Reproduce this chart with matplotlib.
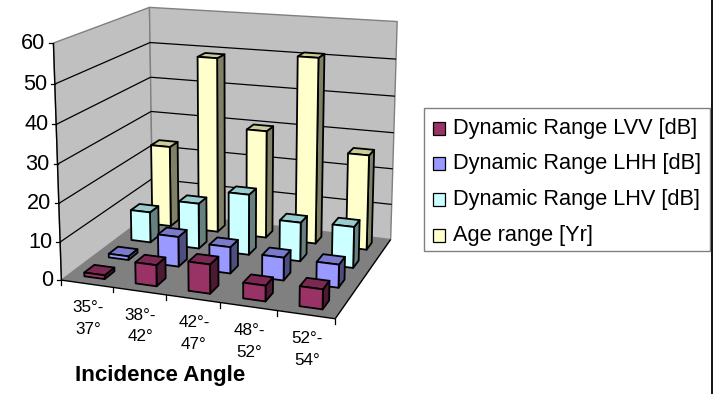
import numpy as np
import matplotlib
matplotlib.use("Agg")
import matplotlib.pyplot as plt
from matplotlib.patches import Polygon, Rectangle

plt.rcParams['font.family'] = ['Liberation Sans', 'DejaVu Sans']

categories = ["35°-\n37°", "38°-\n42°", "42°-\n47°", "48°-\n52°", "52°-\n54°"]
y_ticks = [0, 10, 20, 30, 40, 50, 60]
lvv = [1, 5.5, 7.5, 4, 5]
lhh = [1, 8, 7, 6, 6]
lhv = [8.5, 12.5, 16.5, 10.5, 11]
age = [23, 49, 30, 51, 26]
series_names = ["Dynamic Range LVV [dB]", "Dynamic Range LHH [dB]",
                "Dynamic Range LHV [dB]", "Age range [Yr]"]
x_title = "Incidence Angle"

faces = ["#993366", "#9999FF", "#CCFFFF", "#FFFFCC"]
tops = ["#7A2952", "#7A7ACC", "#99CCCC", "#CCCC99"]
sides = ["#4D1A33", "#4D4D80", "#668080", "#808066"]

# perspective calibration of the 3-D axes box: (col, row, value) -> pixel
calib = [((0, 0, 0), (62, 279)), ((5, 0, 0), (335, 320)), ((5, 4, 0), (391, 238)),
         ((0, 4, 0), (152, 213)), ((0, 0, 60), (53, 43)), ((0, 4, 60), (150, 7)),
         ((5, 4, 60), (397, 22))]
A, b = [], []
for (X, Y, Z), (u, v) in calib:
    A.append([X, Y, Z, 1, 0, 0, 0, 0, -u*X, -u*Y, -u*Z]); b.append(u)
    A.append([0, 0, 0, 0, X, Y, Z, 1, -v*X, -v*Y, -v*Z]); b.append(v)
p = np.linalg.lstsq(np.array(A, float), np.array(b, float), rcond=None)[0]
P = np.append(p, 1).reshape(3, 4)


def proj(X, Y, Z):
    h = P @ np.array([X, Y, Z, 1.0])
    return h[0]/h[2], h[1]/h[2]


fig = plt.figure(figsize=(7.16, 3.94), dpi=100)
ax = fig.add_axes([0, 0, 1, 1])
ax.set_xlim(0, 716)
ax.set_ylim(394, 0)
ax.axis("off")


def quad(pts, fc, ec="none", lw=1.0, z=1):
    ax.add_patch(Polygon([proj(*q) for q in pts], closed=True, fc=fc, ec=ec, lw=lw,
                         zorder=z, joinstyle="round"))


def line(a, b, c="k", lw=1.0, z=2):
    pa, pb = proj(*a), proj(*b)
    ax.plot([pa[0], pb[0]], [pa[1], pb[1]], color=c, lw=lw, zorder=z, solid_capstyle="butt")


# walls and floor
quad([(0, 0, 0), (0, 4, 0), (0, 4, 60), (0, 0, 60)], "#C0C0C0", "#808080", 1.0)
quad([(0, 4, 0), (5, 4, 0), (5, 4, 60), (0, 4, 60)], "#C0C0C0", "#808080", 1.0)
for t in y_ticks[1:-1]:
    line((0, 0, t), (0, 4, t), lw=0.9)
    line((0, 4, t), (5, 4, t), lw=0.9)
quad([(0, 0, 0), (5, 0, 0), (5, 4, 0), (0, 4, 0)], "#808080", z=3)
line((0, 0, 0), (5, 0, 0), z=3)
line((5, 0, 0), (5, 4, 0), z=3)
line((0, 0, 0), (0, 0, 60), z=3)

# ticks and labels
for t in y_ticks:
    px, py = proj(0, 0, t)
    ax.plot([px-4, px], [py, py], color="k", lw=0.9, zorder=3)
    ax.text(px-8, py, str(t), ha="right", va="center", fontsize=15.6)
for i in range(6):
    px, py = proj(i, 0, 0)
    ax.plot([px, px], [py, py+5], color="k", lw=0.9, zorder=3)
for i, c in enumerate(categories):
    px, py = proj(i+0.5, 0, 0)
    ax.text(px+1, py+35, c, ha="center", va="center", fontsize=12.3, linespacing=1.55)
ax.text(160, 376, x_title, ha="center", va="center", fontsize=16.1, fontweight="bold")

# bars, back row first
w = 0.4
data = [lvv, lhh, lhv, age]
zo = 10
for s in range(3, -1, -1):
    for i in range(4, -1, -1):
        v = data[s][i]
        x0, x1 = i+0.5-w/2, i+0.5+w/2
        y0, y1 = s+0.5-w/2, s+0.5+w/2
        quad([(x1, y0, 0), (x1, y1, 0), (x1, y1, v), (x1, y0, v)], sides[s], "k", 1.3, zo)
        quad([(x0, y0, v), (x1, y0, v), (x1, y1, v), (x0, y1, v)], tops[s], "k", 1.3, zo)
        quad([(x0, y0, 0), (x1, y0, 0), (x1, y0, v), (x0, y0, v)], faces[s], "k", 1.3, zo)
        zo += 1

# legend
ax.add_patch(Rectangle((423.5, 107.5), 286.5, 143, fc="white", ec="#808080", lw=1.0, zorder=5))
for k, name in enumerate(series_names):
    yy = 128 + k*35.7
    ax.add_patch(Rectangle((432.5, yy-6.5), 12, 13, fc=faces[k], ec="k", lw=0.9, zorder=6))
    ax.text(453, yy, name, ha="left", va="center", fontsize=15.7, zorder=6)

# right-hand border of the image
ax.plot([711.5, 711.5], [0, 394], color="k", lw=1.3, zorder=7)

fig.savefig("out.png", dpi=100, facecolor="white")
